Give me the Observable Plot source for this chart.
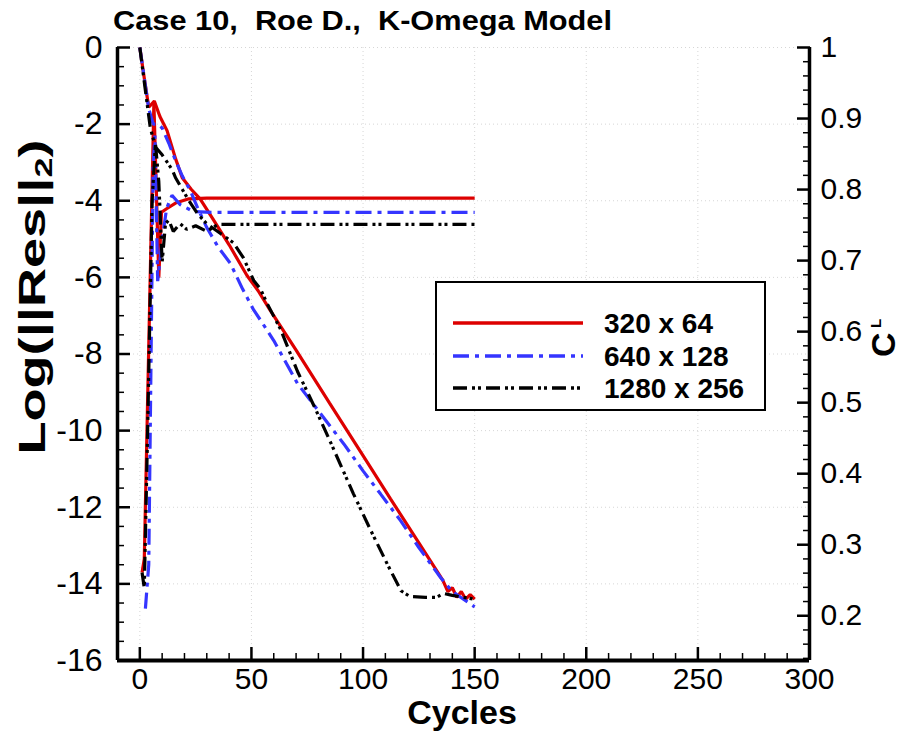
<!DOCTYPE html>
<html><head><meta charset="utf-8">
<script src="https://cdn.jsdelivr.net/npm/d3@7"></script>
<script src="https://cdn.jsdelivr.net/npm/@observablehq/plot@0.6"></script>
<style>
body{margin:0;background:#fff;}
#chart svg{display:block;}
</style></head><body><div id="chart"></div>
<script>
// ---------- data ----------
const seriesNames = ["320 x 64", "640 x 128", "1280 x 256"];
const seriesColors = ["#dd0000", "#3535ff", "#000000"];
const seriesDashes = [null, "16,6,4,6", "14,5,3,3,3,5"];

// residual history, Log(||Res||2)
const resX_320 = [0, 2, 4, 6.5, 9, 12.2, 16, 19, 23, 27, 33, 40, 48, 53, 58.5, 70, 85, 100, 112.3, 125, 135.7, 138, 140, 142, 144, 146, 148, 150];
const resY_320 = [0, -0.8, -1.56, -1.4, -1.8, -2.17, -2.9, -3.4, -3.7, -3.95, -4.5, -5.15, -5.95, -6.35, -6.87, -7.9, -9.28, -10.65, -11.78, -12.93, -13.9, -14.2, -14.1, -14.35, -14.2, -14.4, -14.28, -14.4];
const resX_640 = [0, 2, 4, 6, 8, 10, 13, 16, 19, 22.6, 26, 30, 35, 40.6, 46, 51, 55, 60, 70.6, 81, 91.3, 100, 107.8, 116.8, 125, 134.8, 140, 145, 150];
const resY_640 = [0, -0.8, -1.6, -2.0, -2.0, -2.1, -2.5, -2.95, -3.35, -3.73, -4.2, -4.7, -5.2, -5.64, -6.3, -6.85, -7.2, -7.65, -8.77, -9.56, -10.34, -11.05, -11.65, -12.35, -13.05, -13.84, -14.2, -14.4, -14.6];
const resX_1280 = [0, 2, 4.7, 7, 10, 14.6, 16, 19, 22, 26, 30, 36, 42, 46.5, 51, 54, 57, 63, 70.6, 78, 85.4, 95.7, 103, 111, 117, 121, 128, 133, 136, 140, 145, 150];
const resY_1280 = [0, -0.9, -2.1, -2.6, -2.8, -3.2, -3.4, -3.7, -4.0, -4.35, -4.6, -4.85, -5.1, -5.5, -6.08, -6.3, -6.68, -7.35, -8.45, -9.35, -10.3, -11.65, -12.55, -13.5, -14.18, -14.33, -14.35, -14.35, -14.25, -14.3, -14.35, -14.4];

// lift coefficient history, C_L
const clX_320 = [1, 2, 6.3, 8.5, 9.7, 12, 16, 22, 30, 150];
const clV_320 = [0.261, 0.28, 0.922, 0.676, 0.768, 0.773, 0.781, 0.787, 0.788, 0.788];
const clX_640 = [2.5, 4, 6, 6.8, 8, 10, 12, 14.4, 18, 24, 32, 150];
const clV_640 = [0.21, 0.272, 0.838, 0.876, 0.671, 0.730, 0.7735, 0.792, 0.779, 0.769, 0.768, 0.768];
const clX_1280 = [1, 2, 3.5, 5.5, 7, 8.5, 10, 11.5, 13, 15, 18, 21, 25, 30, 35, 150];
const clV_1280 = [0.261, 0.239, 0.461, 0.784, 0.865, 0.811, 0.698, 0.752, 0.757, 0.741, 0.752, 0.744, 0.749, 0.741, 0.751, 0.751];

// axes
const X_DOMAIN = [-10, 300];
const Y_DOMAIN = [-16, 0];
const CL_DOMAIN = [0.137, 1];
const xMajor = [0, 50, 100, 150, 200, 250, 300];
const yMajor = [-16, -14, -12, -10, -8, -6, -4, -2, 0];
const clMajor = [0.2, 0.3, 0.4, 0.5, 0.6, 0.7, 0.8, 0.9, 1];
const titleText = "Case 10,  Roe D.,  K-Omega Model";
const xTitle = "Cycles";

// ---------- build ----------
const clToY = d3.scaleLinear().domain(CL_DOMAIN).range(Y_DOMAIN);
const xMinor = d3.range(1, 30).map(i => i * 10).filter(v => v % 50 !== 0);
const yMinor = d3.range(-32, 1).map(i => i / 2).filter(v => Math.abs(v % 2) !== 0);
const clMinor = d3.range(7, 51).map(i => i * 0.02).filter(v => Math.round(v * 100) % 10 !== 0);
const fmtCL = v => d3.format("~g")(Math.round(v * 100) / 100);

const resXs = [resX_320, resX_640, resX_1280], resYs = [resY_320, resY_640, resY_1280];
const clXs = [clX_320, clX_640, clX_1280], clVs = [clV_320, clV_640, clV_1280];

const lineMarks = [];
seriesNames.forEach((name, i) => {
  const res = resXs[i].map((x, j) => ({x, y: resYs[i][j]}));
  const cl = clXs[i].map((x, j) => ({x, y: clToY(clVs[i][j])}));
  const opts = {x: "x", y: "y", stroke: seriesColors[i], strokeWidth: 3.2,
    strokeDasharray: seriesDashes[i], strokeLinejoin: "miter", strokeLinecap: "butt"};
  lineMarks.push(Plot.line(cl, opts));
  lineMarks.push(Plot.line(res, opts));
});

const gridStyle = {stroke: "#d6d6d6", strokeOpacity: 1, strokeDasharray: "1,3", strokeWidth: 1};
const font = "'Liberation Sans', Arial, sans-serif";

const chart = Plot.plot({
  width: 907, height: 734,
  marginLeft: 117, marginRight: 98, marginTop: 47, marginBottom: 74,
  x: {domain: X_DOMAIN},
  y: {domain: Y_DOMAIN},
  style: {fontFamily: font, background: "white", color: "black", overflow: "visible"},
  marks: [
    Plot.gridX(xMajor.filter(v => v < 300), gridStyle),
    Plot.gridY(yMajor.filter(v => v > -16), gridStyle),
    ...lineMarks,
    Plot.axisX(xMinor, {anchor: "bottom", tickSize: -7, strokeWidth: 1.5, tickFormat: () => "", label: null}),
    Plot.axisX(xMajor, {anchor: "bottom", tickSize: -13, tickPadding: 20, strokeWidth: 2.5, fontSize: 30, tickFormat: d => String(d), label: null}),
    Plot.axisY(yMinor, {anchor: "left", tickSize: -7, strokeWidth: 1.5, tickFormat: () => "", label: null}),
    Plot.axisY(yMajor, {anchor: "left", tickSize: -13, tickPadding: 28, strokeWidth: 2.5, fontSize: 32, tickFormat: d => String(d), label: null}),
    Plot.axisY(clMinor.map(v => clToY(v)), {anchor: "right", tickSize: -7, strokeWidth: 1.5, tickFormat: () => "", label: null}),
    Plot.axisY(clMajor.map(v => clToY(v)), {anchor: "right", tickSize: -13, tickPadding: 24, strokeWidth: 2.5, fontSize: 30, tickFormat: d => fmtCL(clToY.invert(d)), label: null}),
    Plot.ruleX([X_DOMAIN[0]], {strokeWidth: 3.5}),
    Plot.ruleX([X_DOMAIN[1]], {strokeWidth: 3.5}),
    Plot.ruleY([Y_DOMAIN[0]], {strokeWidth: 4})
  ]
});
document.getElementById("chart").appendChild(chart);

// ---------- annotations (title, axis titles, legend) ----------
const svg = d3.select(chart);
const ann = svg.append("g").attr("font-family", font).attr("fill", "black").attr("text-anchor", "start");

ann.append("text").attr("x", 113).attr("y", 30).attr("text-anchor", "start")
  .attr("font-size", 28).attr("font-weight", "bold")
  .attr("textLength", 499).attr("lengthAdjust", "spacingAndGlyphs")
  .text(titleText);

ann.append("text").attr("x", 462).attr("y", 724)
  .attr("text-anchor", "middle").attr("font-size", 34).attr("font-weight", "bold")
  .text(xTitle);

const yl = ann.append("text")
  .attr("transform", "translate(45,297) rotate(-90)")
  .attr("text-anchor", "middle").attr("font-size", 36).attr("font-weight", "bold")
  .attr("textLength", 315).attr("lengthAdjust", "spacingAndGlyphs");
yl.append("tspan").text("Log(||Res||");
yl.append("tspan").attr("font-size", 24).attr("dy", 7).text("2");
yl.append("tspan").attr("dy", -7).text(")");

const clg = ann.append("g").attr("transform", "translate(895,357) rotate(-90)");
clg.append("text").attr("x", 0).attr("y", 0).attr("text-anchor", "start")
  .attr("font-size", 34).attr("font-weight", "bold").text("C");
clg.append("text").attr("x", 29).attr("y", -14).attr("text-anchor", "start")
  .attr("font-size", 15).attr("font-weight", "bold").text("L");

// legend
const lg = ann.append("g");
lg.append("rect").attr("x", 436).attr("y", 282).attr("width", 329).attr("height", 128)
  .attr("fill", "white").attr("stroke", "black").attr("stroke-width", 2);
const legendRowY = [323, 356, 388];
seriesNames.forEach((name, i) => {
  lg.append("line").attr("x1", 453).attr("x2", 583).attr("y1", legendRowY[i]).attr("y2", legendRowY[i])
    .attr("stroke", seriesColors[i]).attr("stroke-width", 3.5)
    .attr("stroke-dasharray", seriesDashes[i]);
  lg.append("text").attr("x", 604).attr("y", legendRowY[i] + 10).attr("text-anchor", "start")
    .attr("font-size", 28).attr("font-weight", "bold").text(name);
});
</script></body></html>
